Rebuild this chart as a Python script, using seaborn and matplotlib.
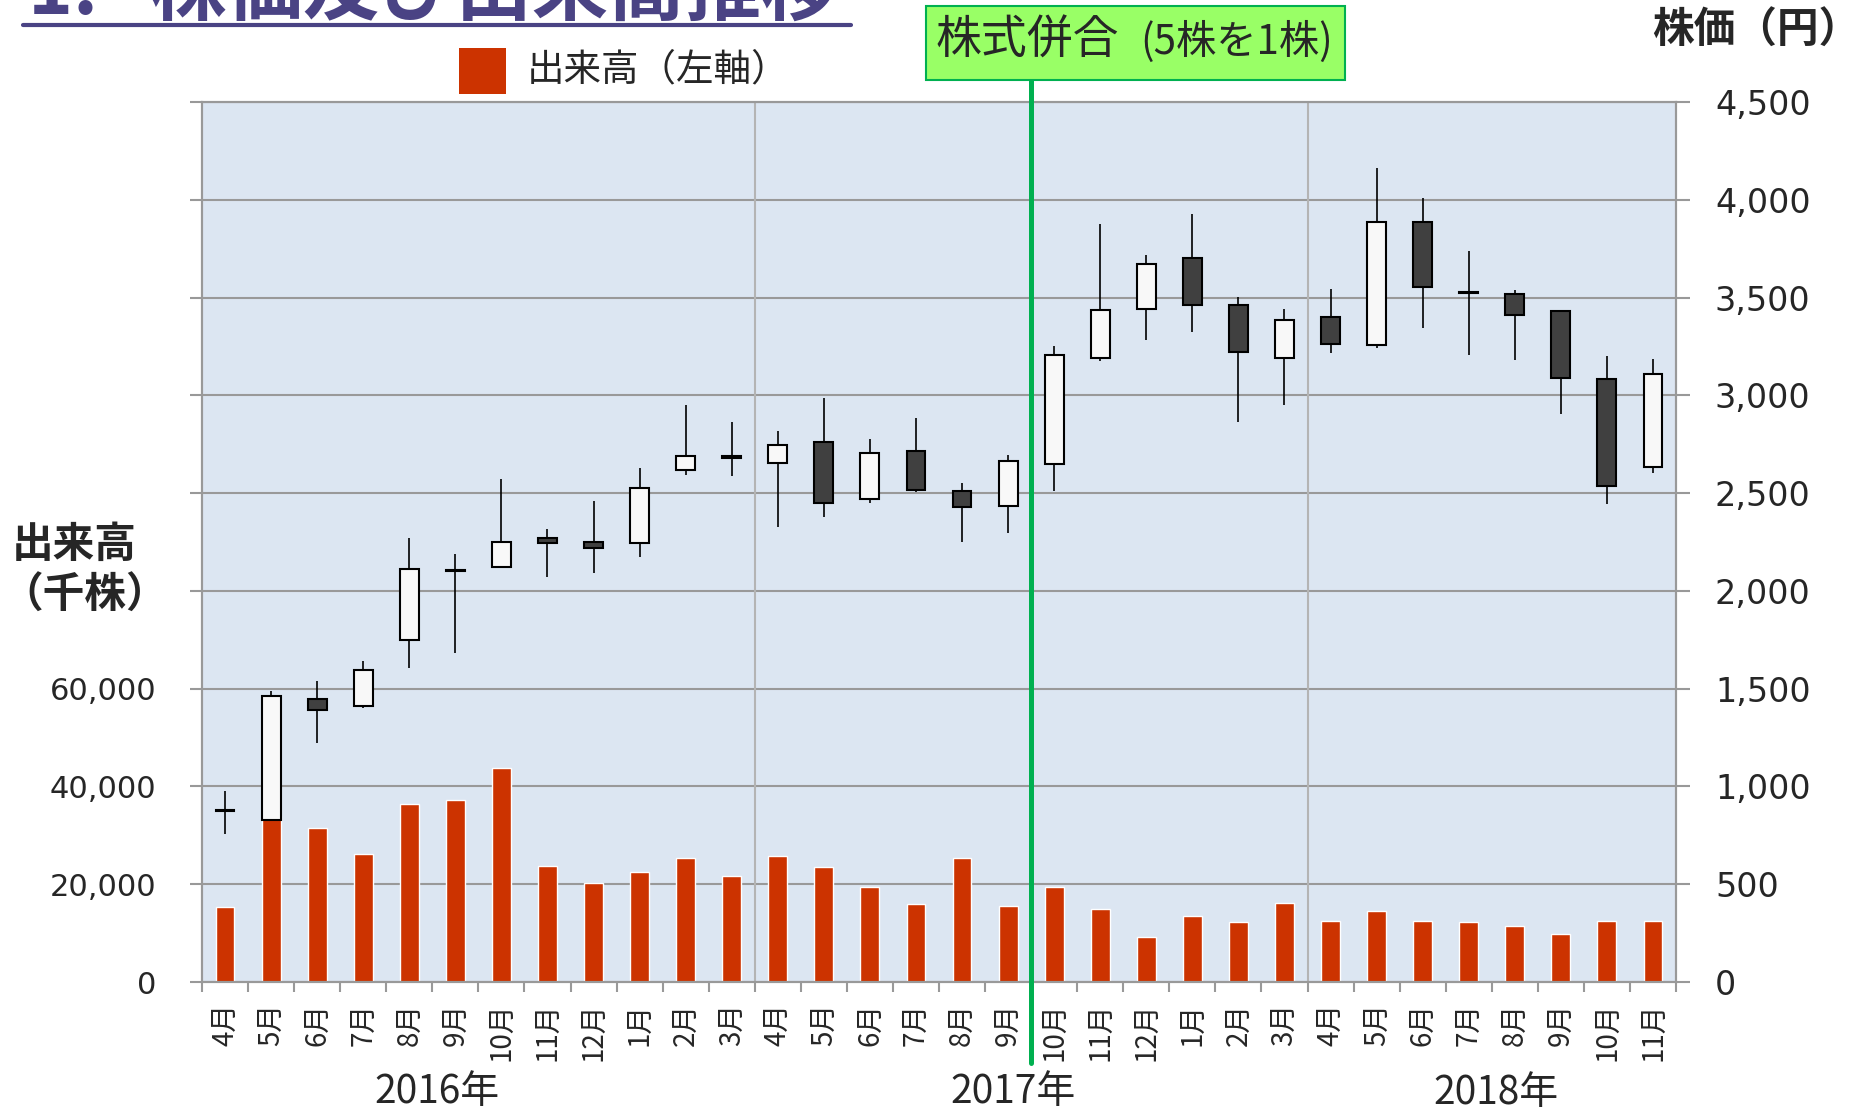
import matplotlib
matplotlib.use('Agg')
import matplotlib.pyplot as plt
from matplotlib.patches import Rectangle
from matplotlib.lines import Line2D
import seaborn as sns
import pandas as pd
import numpy as np

sns.set_style('ticks')
plt.rcParams['font.family'] = ['Noto Sans CJK JP', 'DejaVu Sans']

# months from Apr 2016 to Nov 2018
month_labels = ['4月', '5月', '6月', '7月', '8月', '9月', '10月', '11月', '12月', '1月', '2月', '3月',
                '4月', '5月', '6月', '7月', '8月', '9月', '10月', '11月', '12月', '1月', '2月', '3月',
                '4月', '5月', '6月', '7月', '8月', '9月', '10月', '11月']
year_labels = ['2016年', '2017年', '2018年']
year_label_pos = [4.6, 17.1, 27.6]

# volume (thousand shares)
volume = [15300, 34000, 31500, 26200, 36500, 37300, 43700, 23700, 20300, 22500, 25400, 21600,
          25800, 23600, 19500, 16000, 25300, 15600, 19500, 14900, 9300, 13400, 12200, 16100,
          12400, 14500, 12400, 12300, 11400, 9900, 12400, 12400]

# monthly candles (yen)
price_open = [875, 828, 1449, 1410, 1750, 2100, 2124, 2270, 2250, 2247, 2616, 2680,
              2654, 2760, 2470, 2717, 2509, 2434, 2650, 3193, 3444, 3701, 3461, 3189,
              3401, 3259, 3884, 3521, 3520, 3430, 3082, 2633]
price_high = [978, 1486, 1538, 1640, 2272, 2189, 2572, 2316, 2461, 2627, 2952, 2862,
              2816, 2986, 2777, 2882, 2552, 2697, 3254, 3877, 3718, 3928, 3503, 3442,
              3543, 4164, 4009, 3737, 3538, 3430, 3203, 3188]
price_low = [756, 828, 1220, 1399, 1607, 1682, 2124, 2073, 2093, 2171, 2591, 2586,
             2327, 2376, 2448, 2507, 2248, 2296, 2510, 3176, 3285, 3323, 2863, 2950,
             3217, 3242, 3346, 3206, 3183, 2903, 2444, 2602]
price_close = [880, 1464, 1392, 1597, 2110, 2108, 2250, 2247, 2219, 2528, 2688, 2688,
               2744, 2449, 2705, 2514, 2431, 2662, 3205, 3435, 3671, 3461, 3222, 3384,
               3264, 3884, 3556, 3528, 3410, 3089, 2534, 3109]

W, H = 1861, 1114


def fx(px):
    return px / W


def fy(py):
    return 1 - py / H


fig = plt.figure(figsize=(W / 100, H / 100), dpi=100)
ax = fig.add_axes([fx(202), fy(982), fx(1676) - fx(202), fy(102) - fy(982)])
ax.set_facecolor('#DCE6F2')

n = len(volume)
df = pd.DataFrame({'pos': np.arange(n), 'volume': volume})
sns.barplot(data=df, x='pos', y='volume', color='#CC3300', saturation=1, width=0.41,
            errorbar=None, ax=ax, zorder=2)
ax.set_xlabel('')
ax.set_ylabel('')

# grid
ax.set_axisbelow(True)
ax.yaxis.grid(True, color='#999999', lw=1.5)
ax.xaxis.grid(False)
for xv in [11.5, 23.5]:
    ax.axvline(xv, color='#B4B4B4', lw=1.5, zorder=1)

ax.set_ylim(0, 180000)
ax.set_yticks(range(0, 180001, 20000))
ax.set_yticklabels([f'{v:,}' if v <= 60000 else '' for v in range(0, 180001, 20000)],
                   fontfamily='DejaVu Sans', fontsize=22)
ax.tick_params(axis='y', length=9, width=1.5, color='#999999', pad=24)

# candles on right axis
ax2 = ax.twinx()
ax2.patch.set_visible(False)
o = np.array(price_open)
c = np.array(price_close)
x = np.arange(n)
ax2.vlines(x, price_low, price_high, color='black', lw=1.2, zorder=2)
colors = np.where(c >= o, '#F8F8F8', '#404040')
ax2.bar(x, np.abs(c - o), bottom=np.minimum(o, c), width=0.41, color=colors,
        edgecolor='black', lw=1.5, zorder=3)
ax2.set_ylim(0, 4500)
ax2.set_yticks(range(0, 4501, 500))
ax2.set_yticklabels([f'{v:,}' for v in range(0, 4501, 500)], fontfamily='DejaVu Sans', fontsize=24)
ax2.tick_params(axis='y', length=10, width=1.5, color='#999999', pad=18)

ax.set_xlim(-0.5, n - 0.5)
ax.set_xticks(x)
ax.set_xticklabels(month_labels, rotation=90, fontsize=20, va='top', ha='center')
ax.tick_params(axis='x', which='major', length=0, pad=15)
ax.set_xticks(np.arange(-0.5, n, 1), minor=True)
ax.tick_params(axis='x', which='minor', length=7, width=1.5, color='#999999')

for a in (ax, ax2):
    for s in a.spines.values():
        s.set_color('#999999')
        s.set_linewidth(1.5)

for lab, pos, yy in zip(year_labels, year_label_pos, [1092, 1092, 1093]):
    ax.text(pos, (982 - yy) / 880, lab, transform=ax.get_xaxis_transform(),
            ha='center', va='center', fontsize=28)

# share consolidation marker
ax2.plot([17.5, 17.5], [(982 - 80) / 880, (982 - 1063) / 880], transform=ax2.get_xaxis_transform(),
         color='#00B050', lw=3.6, clip_on=False, zorder=10)
fig.patches.append(Rectangle((fx(926), fy(80)), fx(1345) - fx(926), fy(6) - fy(80),
                             transform=fig.transFigure, facecolor='#99FF66',
                             edgecolor='#00B050', lw=1.5, zorder=5))
fig.text(fx(936), fy(40), '株式併合', fontsize=33, va='center', ha='left', zorder=6)
fig.text(fx(1237), fy(42), '(5株を1株)', fontsize=29, va='center', ha='center', zorder=6)

# legend
fig.patches.append(Rectangle((fx(459), fy(94)), 47 / W, 46 / H, transform=fig.transFigure,
                             facecolor='#CC3300', edgecolor='none'))
fig.text(fx(527), fy(70), '出来高（左軸）', fontsize=27, va='center', ha='left')

# axis titles
fig.text(fx(74), fy(545), '出来高', fontsize=30, fontweight='bold', va='center', ha='center')
fig.text(fx(1), fy(596), '（千株）', fontsize=30, fontweight='bold', va='center', ha='left')
fig.text(fx(1756), fy(31), '株価（円）', fontsize=30, fontweight='bold', va='center', ha='center')

# slide title, cut at the top
fig.text(fx(28), fy(14), '1.   株価及び出来高推移', fontsize=55, fontweight='bold',
         color='#4A4384', va='baseline', ha='left')
fig.lines.append(Line2D([fx(23), fx(851)], [fy(25), fy(25)], transform=fig.transFigure,
                        color='#4A4384', lw=3))

fig.savefig('out.png', dpi=100)
